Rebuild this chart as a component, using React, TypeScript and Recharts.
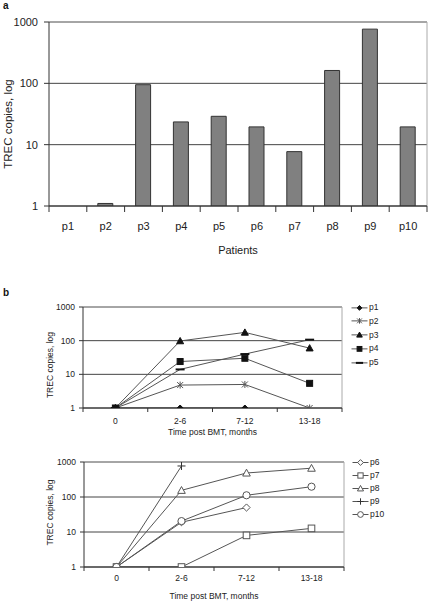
import { BarChart, Bar, LineChart, Line, XAxis, YAxis, CartesianGrid, ReferenceLine, Legend, Label } from 'recharts';

// panel a - TREC copies per patient
const PATIENTS = ['p1', 'p2', 'p3', 'p4', 'p5', 'p6', 'p7', 'p8', 'p9', 'p10'];
const TREC_COPIES = [1, 1.1, 95, 23.5, 29, 19.5, 7.7, 162, 765, 19.5];

// panel b - follow-up after BMT
const TIME_POINTS = ['0', '2-6', '7-12', '13-18'];
const P1 = [1, 1, 1, null];
const P2 = [1, 4.8, 5, 1];
const P3 = [1, 98, 176, 60];
const P4 = [1, 24, 30, 5.4];
const P5 = [1, 14, 40, 107];
const P6 = [1, 19, 50, null];
const P7 = [1, 1, 8, 12.7];
const P8 = [1, 155, 485, 665];
const P9 = [1, 770, null, null];
const P10 = [1, 20.5, 112, 197];

const LOG_TICKS = [1, 10, 100, 1000];

const FONT = '"Liberation Sans", Arial, sans-serif';
const TEXT = '#222';
const AXIS = '#333';
const GRID = '#444';
const FRAME = '#aaa';
const LINE = '#555';

type Shape = 'diamond' | 'star' | 'triangle' | 'square' | 'dash' | 'plus' | 'circle';

interface SeriesDef {
  key: string;
  values: (number | null)[];
  shape: Shape;
  filled: boolean;
}

const TOP_SERIES: SeriesDef[] = [
  { key: 'p1', values: P1, shape: 'diamond', filled: true },
  { key: 'p2', values: P2, shape: 'star', filled: false },
  { key: 'p3', values: P3, shape: 'triangle', filled: true },
  { key: 'p4', values: P4, shape: 'square', filled: true },
  { key: 'p5', values: P5, shape: 'dash', filled: true },
];

const BOTTOM_SERIES: SeriesDef[] = [
  { key: 'p6', values: P6, shape: 'diamond', filled: false },
  { key: 'p7', values: P7, shape: 'square', filled: false },
  { key: 'p8', values: P8, shape: 'triangle', filled: false },
  { key: 'p9', values: P9, shape: 'plus', filled: false },
  { key: 'p10', values: P10, shape: 'circle', filled: false },
];

const barData = PATIENTS.map((p, i) => ({ patient: p, copies: TREC_COPIES[i] }));

function buildRows(series: SeriesDef[]) {
  return TIME_POINTS.map((t, i) => {
    const row: Record<string, any> = { time: t };
    series.forEach((s) => {
      row[s.key] = s.values[i];
    });
    return row;
  });
}

function Marker({ cx, cy, shape, filled, scale = 1 }: { cx: number; cy: number; shape: Shape; filled: boolean; scale?: number }) {
  const stroke = filled ? '#111' : LINE;
  const fill = filled ? '#111' : '#fff';
  const k = scale;
  switch (shape) {
    case 'diamond': {
      const s = (filled ? 3 : 3.6) * k;
      return (
        <polygon
          points={`${cx},${cy - s} ${cx + s},${cy} ${cx},${cy + s} ${cx - s},${cy}`}
          fill={fill}
          stroke={stroke}
          strokeWidth={1}
        />
      );
    }
    case 'square': {
      const s = (filled ? 3 : 3.3) * k;
      return <rect x={cx - s} y={cy - s} width={s * 2} height={s * 2} fill={fill} stroke={stroke} strokeWidth={1} />;
    }
    case 'triangle': {
      const s = (filled ? 3.5 : 3.8) * k;
      return (
        <polygon
          points={`${cx},${cy - s} ${cx + s},${cy + s * 0.8} ${cx - s},${cy + s * 0.8}`}
          fill={fill}
          stroke={stroke}
          strokeWidth={1}
        />
      );
    }
    case 'dash':
      return <rect x={cx - 4.5 * k} y={cy - 1} width={9 * k} height={2} fill="#111" />;
    case 'star':
      return (
        <g stroke={LINE} strokeWidth={1}>
          <line x1={cx - 3 * k} y1={cy - 3 * k} x2={cx + 3 * k} y2={cy + 3 * k} />
          <line x1={cx - 3 * k} y1={cy + 3 * k} x2={cx + 3 * k} y2={cy - 3 * k} />
          <line x1={cx} y1={cy - 3.5 * k} x2={cx} y2={cy + 3.5 * k} />
        </g>
      );
    case 'plus':
      return (
        <g stroke="#333" strokeWidth={1}>
          <line x1={cx - 4 * k} y1={cy} x2={cx + 4 * k} y2={cy} />
          <line x1={cx} y1={cy - 4 * k} x2={cx} y2={cy + 4 * k} />
        </g>
      );
    case 'circle':
      return <circle cx={cx} cy={cy} r={3.6 * k} fill="#fff" stroke={LINE} strokeWidth={1} />;
  }
  return null;
}

// category tick with tick marks on the band edges (Excel style)
function BoundaryTick(props: any) {
  const { x, y, payload, index, visibleTicksCount, step, size, margin, fontSize } = props;
  const axisY = y - size - margin;
  const half = step / 2;
  return (
    <g>
      <line x1={x - half} y1={axisY} x2={x - half} y2={axisY + size} stroke={AXIS} />
      {index === visibleTicksCount - 1 && (
        <line x1={x + half} y1={axisY} x2={x + half} y2={axisY + size} stroke={AXIS} />
      )}
      <text x={x} y={y} dy="0.71em" textAnchor="middle" fontSize={fontSize} fill={TEXT} fontFamily={FONT}>
        {payload.value}
      </text>
    </g>
  );
}

const yTitle = (value: string, fontSize: number, dx: number, dy: number) => (props: any) => {
  const vb = props.viewBox;
  const cx = vb.x + dx;
  const cy = vb.y + vb.height / 2 + dy;
  return (
    <text
      x={cx}
      y={cy}
      transform={`rotate(-90 ${cx} ${cy})`}
      textAnchor="middle"
      dominantBaseline="central"
      fontSize={fontSize}
      fill={TEXT}
      fontFamily={FONT}
    >
      {value}
    </text>
  );
};

const rightEdge = ({ offset }: any) => [offset.left + offset.width];

const renderLegend = (series: SeriesDef[], rowHeight: number) => () => (
  <div style={{ fontFamily: FONT }}>
    {series.map((s) => (
      <div key={s.key} style={{ display: 'flex', alignItems: 'center', height: rowHeight }}>
        <svg width={17} height={rowHeight} style={{ display: 'block' }}>
          <line x1={0.5} x2={16.5} y1={rowHeight / 2} y2={rowHeight / 2} stroke={LINE} />
          <Marker cx={8.5} cy={rowHeight / 2} shape={s.shape} filled={s.filled} scale={0.8} />
        </svg>
        <span style={{ fontSize: 8.5, marginLeft: 1, color: TEXT, lineHeight: 1 }}>{s.key}</span>
      </div>
    ))}
  </div>
);

interface FollowUpProps {
  series: SeriesDef[];
  top: number;
  height: number;
  marginTop: number;
  axisWidth: number;
  marginRight: number;
  xAxisHeight: number;
  tickMargin: number;
  titleDy: number;
  titleOffset: number;
  legendLeft: number;
  legendTop: number;
  legendRow: number;
}

function FollowUpChart(p: FollowUpProps) {
  const rows = buildRows(p.series);
  const plotWidth = 430 - p.axisWidth - p.marginRight;
  const step = plotWidth / TIME_POINTS.length;
  return (
    <div style={{ position: 'absolute', left: 0, top: p.top }}>
      <LineChart
        width={430}
        height={p.height}
        data={rows}
        margin={{ top: p.marginTop, right: p.marginRight, bottom: 0, left: 0 }}
      >
        <CartesianGrid horizontal vertical={false} stroke={GRID} />
        <CartesianGrid horizontal={false} vertical verticalCoordinatesGenerator={rightEdge} stroke={FRAME} />
        <ReferenceLine y={1000} stroke={FRAME} />
        <XAxis
          dataKey="time"
          scale="band"
          height={p.xAxisHeight}
          stroke={AXIS}
          tickLine={false}
          tickSize={4}
          tickMargin={p.tickMargin}
          tick={<BoundaryTick step={step} size={4} margin={p.tickMargin} fontSize={8.5} />}
          interval={0}
        >
          <Label
            value="Time post BMT, months"
            position="insideBottom"
            offset={p.titleOffset}
            style={{ fontSize: 8.5, fill: TEXT, fontFamily: FONT }}
          />
        </XAxis>
        <YAxis
          type="number"
          scale="log"
          domain={[1, 1000]}
          ticks={LOG_TICKS}
          allowDataOverflow
          width={p.axisWidth}
          stroke={AXIS}
          tickSize={4}
          tickMargin={4}
          tick={{ fontSize: 8.5, fill: TEXT, fontFamily: FONT }}
          interval={0}
        >
          <Label content={yTitle('TREC copies, log', 8.5, 50, p.titleDy)} />
        </YAxis>
        <Legend
          layout="vertical"
          align="center"
          verticalAlign="middle"
          content={renderLegend(p.series, p.legendRow)}
          wrapperStyle={{ left: p.legendLeft, top: p.legendTop, width: 70 }}
        />
        {p.series.map((s) => (
          <Line
            key={s.key}
            dataKey={s.key}
            stroke={LINE}
            strokeWidth={1}
            isAnimationActive={false}
            activeDot={false}
            dot={(d: any) =>
              d.cy == null || d.value == null ? (
                <g key={`${s.key}-${d.index}`} />
              ) : (
                <Marker key={`${s.key}-${d.index}`} cx={d.cx} cy={d.cy} shape={s.shape} filled={s.filled} />
              )
            }
          />
        ))}
      </LineChart>
    </div>
  );
}

export default function App() {
  const barStep = (430 - 49 - 3) / PATIENTS.length;
  return (
    <div
      style={{
        position: 'absolute',
        left: 0,
        top: 0,
        width: 430,
        height: 604,
        background: '#fff',
        fontFamily: FONT,
        overflow: 'hidden',
      }}
    >
      <div style={{ position: 'absolute', left: 0, top: 0 }}>
        <BarChart width={430} height={256} data={barData} margin={{ top: 22, right: 3, bottom: 0, left: 0 }}>
          <CartesianGrid horizontal vertical={false} stroke={GRID} />
          <CartesianGrid horizontal={false} vertical verticalCoordinatesGenerator={rightEdge} stroke={FRAME} />
          <ReferenceLine y={1000} stroke={FRAME} />
          <XAxis
            dataKey="patient"
            height={50}
            stroke={AXIS}
            tickLine={false}
            tickSize={6}
            tickMargin={10}
            tick={<BoundaryTick step={barStep} size={6} margin={10} fontSize={11} />}
            interval={0}
          >
            <Label
              value="Patients"
              position="insideBottom"
              offset={2}
              style={{ fontSize: 11, fill: TEXT, fontFamily: FONT }}
            />
          </XAxis>
          <YAxis
            type="number"
            scale="log"
            domain={[1, 1000]}
            ticks={LOG_TICKS}
            allowDataOverflow
            width={49}
            stroke={AXIS}
            tickSize={5}
            tickMargin={6}
            tick={{ fontSize: 11, fill: TEXT, fontFamily: FONT }}
            interval={0}
          >
            <Label content={yTitle('TREC copies, log', 11.5, 8, 10)} />
          </YAxis>
          <Bar dataKey="copies" fill="#808080" stroke="#333" strokeWidth={1} barSize={15} isAnimationActive={false} />
        </BarChart>
      </div>

      <FollowUpChart
        series={TOP_SERIES}
        top={290}
        height={150}
        marginTop={17}
        axisWidth={83}
        marginRight={88}
        xAxisHeight={32}
        tickMargin={6}
        titleDy={7.5}
        titleOffset={5}
        legendLeft={351}
        legendTop={10.5}
        legendRow={13.75}
      />

      <FollowUpChart
        series={BOTTOM_SERIES}
        top={450}
        height={154}
        marginTop={12}
        axisWidth={84}
        marginRight={86}
        xAxisHeight={37}
        tickMargin={3.5}
        titleDy={-2}
        titleOffset={5}
        legendLeft={352}
        legendTop={6.2}
        legendRow={13}
      />

      <div style={{ position: 'absolute', left: 3, top: 0, fontSize: 10, fontWeight: 'bold', color: '#111' }}>a</div>
      <div style={{ position: 'absolute', left: 3, top: 287, fontSize: 10, fontWeight: 'bold', color: '#111' }}>b</div>
    </div>
  );
}
